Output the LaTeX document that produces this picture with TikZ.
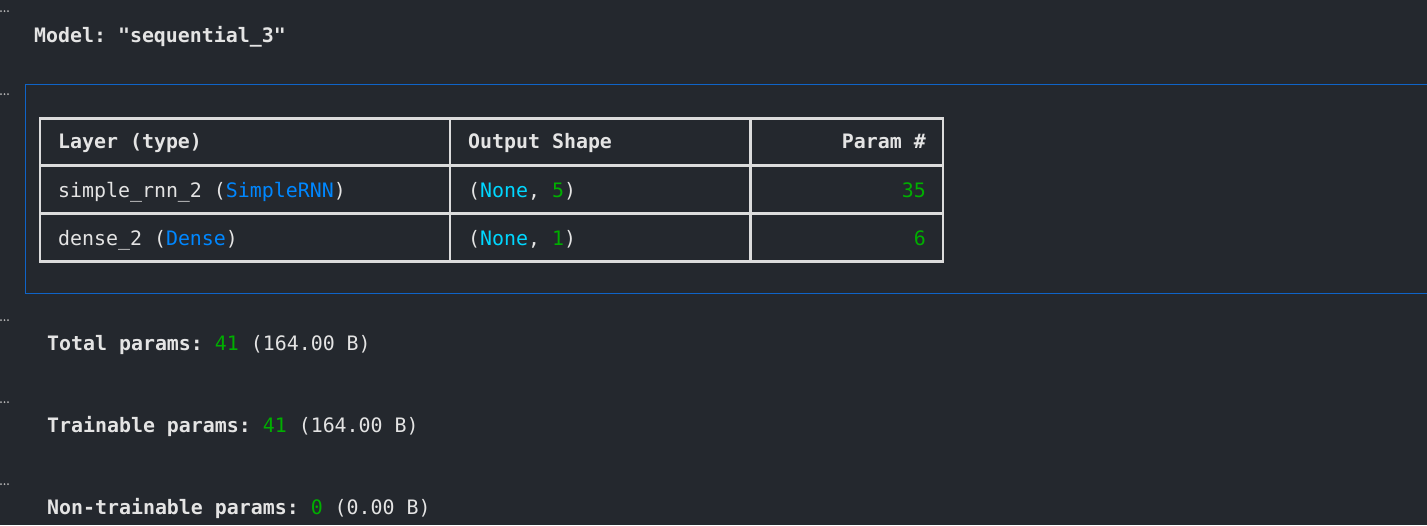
\documentclass[tikz,border=0pt]{standalone}
\usepackage{fontspec}
\setmonofont{DejaVu Sans Mono}
\definecolor{bg}{HTML}{24282E}
\definecolor{fg}{HTML}{E4E4E4}
\definecolor{kblue}{HTML}{0087FF}
\definecolor{kcyan}{HTML}{00D7FF}
\definecolor{kgreen}{HTML}{00AF00}
\definecolor{frameblue}{HTML}{0F64C8}
\definecolor{rule}{HTML}{DCDCDC}
\definecolor{dots}{HTML}{B4B4B4}
\newcommand{\ktype}[1]{\textcolor{kblue}{#1}}
\newcommand{\knone}[1]{\textcolor{kcyan}{#1}}
\newcommand{\knum}[1]{\textcolor{kgreen}{#1}}
\begin{document}
\begin{tikzpicture}[x=1pt,y=-1pt,
  txt/.style={inner sep=0pt,anchor=base west,text=fg,font=\ttfamily\fontsize{19.9}{24}\selectfont},
  bold/.style={txt,font=\ttfamily\bfseries\fontsize{19.9}{24}\selectfont},
  rightcell/.style={txt,anchor=base east},
  tablerule/.style={draw=rule,line width=2.5pt}]
\fill[bg] (0,0) rectangle (1427,525);
\useasboundingbox (0,0) rectangle (1427,525);

%% Table corners and column edges
\coordinate (TL) at (40,118.5);
\coordinate (BR) at (943,261.5);
\coordinate (C1) at (450,118.5);
\coordinate (C2) at (750.5,118.5);

\draw[frameblue,line width=1pt] (1428,84.5) -- (25.5,84.5) -- (25.5,293.5) -- (1428,293.5);% Output frame
\draw[tablerule] (TL) rectangle (BR);% Outer border
\draw[tablerule] (TL |- 0,165.5) -- (BR |- 0,165.5);% Header rule
\draw[tablerule] (TL |- 0,213.5) -- (BR |- 0,213.5);% Row rule
\draw[tablerule] (C1) -- (C1 |- BR);
\draw[tablerule] (C2) -- (C2 |- BR);

\node[bold] (model) at (34,42) {Model: "sequential\_3"};

\node[bold] (hlayer) at (58,148) {Layer (type)};
\node[bold] (hshape) at (468,148) {Output Shape};
\node[bold,anchor=base east] (hparam) at (926,148) {Param \#};

\node[txt] (layer1) at (58,197) {simple\_rnn\_2 (\ktype{SimpleRNN})};
\node[txt] (shape1) at (468,197) {(\knone{None}, \knum{5})};
\node[rightcell] (param1) at (926,197) {\knum{35}};
\node[txt] (layer2) at (58,245) {dense\_2 (\ktype{Dense})};
\node[txt] (shape2) at (468,245) {(\knone{None}, \knum{1})};
\node[rightcell] (param2) at (926,245) {\knum{6}};

\node[bold] (total) at (47,350) {Total params: \knum{\mdseries 41} \mdseries(164.00 B)};
\node[bold] (train) at (47,432) {Trainable params: \knum{\mdseries 41} \mdseries(164.00 B)};
\node[bold] (nontrain) at (47,514) {Non-trainable params: \knum{\mdseries 0} \mdseries(0.00 B)};

%% Cell markers at the left edge
\foreach \y in {11,94,320,402,484}{
  \foreach \x in {1,4.5,8}{
    \fill[dots] (\x,\y) circle (1pt);
  }
}
\end{tikzpicture}
\end{document}
